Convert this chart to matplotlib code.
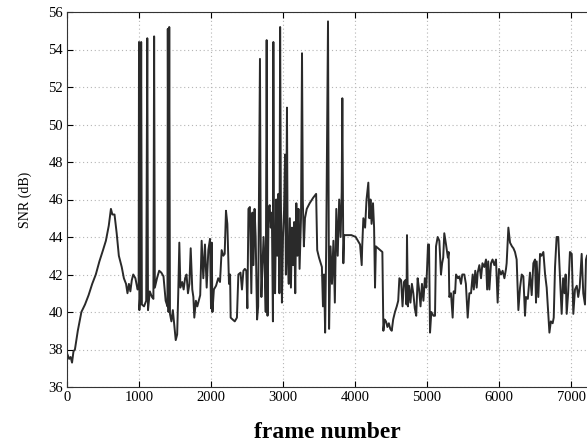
import numpy as np
import matplotlib
matplotlib.use('Agg')
import matplotlib.pyplot as plt

plt.rcParams['font.family'] = ['Liberation Serif', 'DejaVu Serif']

# 帧号与信噪比
frames = [0, 30, 50, 70, 90, 110, 150, 200, 250, 300, 350, 400, 450, 500, 540, 580,
          610, 630, 660, 690, 720, 760, 790, 820, 840, 860, 880, 900, 920, 950, 980,
          995, 1000, 1005, 1020, 1030, 1040, 1070, 1100, 1115, 1125, 1150, 1180, 1200,
          1210, 1220, 1250, 1280, 1310, 1340, 1370, 1395, 1400, 1410, 1420, 1430, 1450,
          1470, 1490, 1510, 1530, 1545, 1560, 1575, 1600, 1620, 1640, 1660, 1680, 1700,
          1718, 1740, 1755, 1768, 1790, 1810, 1830, 1850, 1870, 1893, 1916, 1940, 1963,
          1986, 2000, 2010, 2020, 2040, 2070, 2100, 2125, 2148, 2171, 2190, 2208, 2227,
          2240, 2250, 2265, 2273, 2300, 2330, 2360, 2380, 2410, 2430, 2450, 2470, 2490,
          2505, 2520, 2540, 2560, 2575, 2590, 2605, 2620, 2640, 2655, 2670, 2680, 2690,
          2700, 2715, 2730, 2745, 2760, 2773, 2785, 2800, 2815, 2830, 2845, 2860, 2866,
          2875, 2890, 2905, 2920, 2935, 2950, 2960, 2970, 2985, 3000, 3015, 3028, 3040,
          3055, 3065, 3080, 3095, 3110, 3125, 3140, 3155, 3170, 3185, 3200, 3215, 3230,
          3250, 3264, 3275, 3290, 3305, 3330, 3370, 3420, 3460, 3475, 3500, 3540, 3555,
          3570, 3585, 3600, 3625, 3640, 3660, 3680, 3700, 3720, 3740, 3760, 3780, 3800,
          3815, 3824, 3838, 3850, 3900, 3950, 4010, 4040, 4070, 4093, 4100, 4116, 4140,
          4160, 4185, 4200, 4215, 4230, 4250, 4265, 4278, 4290, 4320, 4350, 4380, 4394,
          4410, 4430, 4450, 4470, 4490, 4510, 4530, 4555, 4580, 4600, 4616, 4640, 4660,
          4680, 4700, 4715, 4722, 4735, 4750, 4770, 4790, 4810, 4830, 4850, 4870, 4890,
          4910, 4930, 4950, 4970, 4990, 5014, 5028, 5042, 5060, 5090, 5111, 5125, 5148,
          5171, 5194, 5210, 5225, 5240, 5264, 5290, 5300, 5310, 5333, 5356, 5370, 5390,
          5403, 5430, 5449, 5472, 5490, 5518, 5540, 5565, 5588, 5611, 5634, 5650, 5670,
          5690, 5704, 5727, 5750, 5770, 5796, 5819, 5835, 5850, 5866, 5889, 5910, 5935,
          5958, 5981, 6000, 6028, 6050, 6075, 6097, 6106, 6130, 6153, 6180, 6200, 6222,
          6245, 6269, 6292, 6315, 6338, 6361, 6375, 6400, 6430, 6454, 6477, 6500, 6514,
          6523, 6546, 6570, 6590, 6616, 6640, 6662, 6685, 6700, 6720, 6745, 6760, 6778,
          6800, 6823, 6838, 6855, 6870, 6890, 6910, 6925, 6940, 6960, 6985, 7010, 7032,
          7055, 7080, 7100, 7120, 7148, 7170, 7194, 7208, 7222]
snr = [37.8, 37.5, 37.6, 37.3, 37.9, 38.0, 39.0, 40.0, 40.4, 40.9, 41.5, 42.0, 42.7, 43.3, 43.8, 44.6,
       45.5, 45.2, 45.2, 44.2, 43.0, 42.4, 41.8, 41.5, 41.0, 41.5, 41.1, 41.7, 42.0, 41.8, 41.2,
       41.3, 54.4, 40.1, 41.2, 54.4, 40.4, 40.3, 40.6, 54.6, 40.1, 41.1, 40.8, 40.7,
       54.7, 41.3, 41.8, 42.2, 42.1, 41.9, 40.6, 40.3, 55.1, 40.0, 55.2, 39.9, 39.5,
       40.1, 39.3, 38.5, 38.8, 41.0, 43.7, 41.3, 41.6, 41.2, 41.8, 42.0, 41.0, 41.5,
       43.4, 41.2, 40.8, 39.7, 40.6, 40.3, 40.6, 40.9, 43.8, 41.8, 43.6, 41.3, 43.3,
       43.9, 40.2, 43.7, 40.0, 41.2, 41.4, 41.8, 41.6, 43.3, 43.0, 43.1, 45.4, 44.7,
       43.0, 41.5, 42.0, 39.7, 39.6, 39.5, 39.7, 42.0, 42.1, 41.2, 42.2, 42.3, 42.2,
       40.2, 45.5, 45.6, 41.0, 45.3, 42.5, 45.5, 44.0, 39.6, 40.3, 48.4, 53.5, 44.0,
       40.8, 42.5, 44.0, 42.5, 40.0, 54.5, 39.8, 45.5, 45.7, 44.5, 45.3, 39.5, 54.4,
       42.0, 41.0, 46.0, 43.0, 46.3, 41.0, 55.2, 46.2, 40.5, 44.0, 45.5, 48.4, 42.0,
       50.9, 43.0, 41.5, 45.0, 41.3, 44.5, 42.5, 44.8, 41.0, 45.8, 43.0, 45.5, 42.3,
       45.0, 53.8, 46.0, 43.5, 45.0, 45.5, 45.8, 46.1, 46.3, 43.3, 42.9, 42.4, 40.3,
       42.0, 38.9, 43.5, 55.5, 39.1, 43.5, 41.5, 43.8, 40.5, 45.5, 43.0, 46.0, 44.0,
       46.4, 51.4, 42.6, 44.1, 44.1, 44.1, 44.0, 43.8, 43.6, 42.5, 43.5, 45.0, 44.5,
       46.0, 46.9, 45.0, 46.0, 44.7, 45.8, 44.5, 41.3, 43.5, 43.4, 43.3, 43.2, 39.0,
       39.6, 39.5, 39.2, 39.4, 39.1, 39.0, 39.6, 40.0, 40.3, 40.6, 41.8, 41.7, 40.3,
       41.6, 41.7, 40.4, 44.1, 40.3, 41.4, 40.5, 41.5, 41.0, 40.2, 39.8, 41.8, 41.2,
       40.3, 41.5, 40.6, 41.8, 41.3, 43.6, 43.6, 38.9, 40.0, 39.8, 39.8, 43.5, 44.0,
       43.8, 42.0, 42.6, 42.9, 44.2, 43.6, 42.9, 43.2, 40.8, 41.0, 39.7, 41.1, 41.0,
       42.0, 41.8, 41.9, 41.5, 42.0, 42.0, 41.5, 39.7, 41.0, 41.0, 42.0, 41.2, 42.2,
       41.3, 42.1, 42.5, 41.8, 42.6, 42.4, 42.8, 41.2, 42.7, 41.2, 42.6, 42.8, 42.5,
       42.8, 40.5, 42.3, 42.0, 42.2, 41.8, 42.3, 42.6, 44.5, 43.7, 43.5, 43.4, 43.2,
       42.8, 40.1, 41.3, 42.0, 41.9, 39.8, 40.8, 40.7, 42.1, 40.9, 42.6, 42.8, 40.5,
       42.7, 40.8, 43.1, 43.0, 43.2, 42.0, 41.3, 39.9, 38.9, 39.5, 39.4, 39.7, 42.4,
       44.0, 44.0, 42.6, 41.2, 39.9, 41.8, 41.0, 42.0, 39.9, 41.0, 43.2, 43.1, 39.9,
       41.2, 41.4, 40.8, 41.3, 43.1, 41.0, 40.4, 42.8, 43.0]

xticks = np.arange(0, 8000, 1000)
yticks = np.arange(36, 57, 2)

fig = plt.figure(figsize=(5.87, 4.47), dpi=100)
ax = fig.add_axes([67/587, 60/447, 520/587, 375/447])

ax.plot(frames, snr, color='#2a2a2a', linewidth=1.4)

ax.set_xlim(0, 7222)
ax.set_ylim(36, 56)
ax.set_xticks(xticks)
ax.set_yticks(yticks)
ax.grid(True, color='#b5b5b5', linestyle=(0, (1, 2.5)), linewidth=0.8)
ax.tick_params(direction='in', length=4, top=True, right=False, labelsize=10.5, pad=3)
ax.spines['right'].set_visible(False)
for s in ['left', 'bottom', 'top']:
    ax.spines[s].set_color('#333333')

ax.set_xlabel('frame number', fontsize=17, fontweight='bold', labelpad=13)
ax.set_ylabel('SNR (dB)', fontsize=10, labelpad=12)

plt.savefig('out.png', dpi=100)
